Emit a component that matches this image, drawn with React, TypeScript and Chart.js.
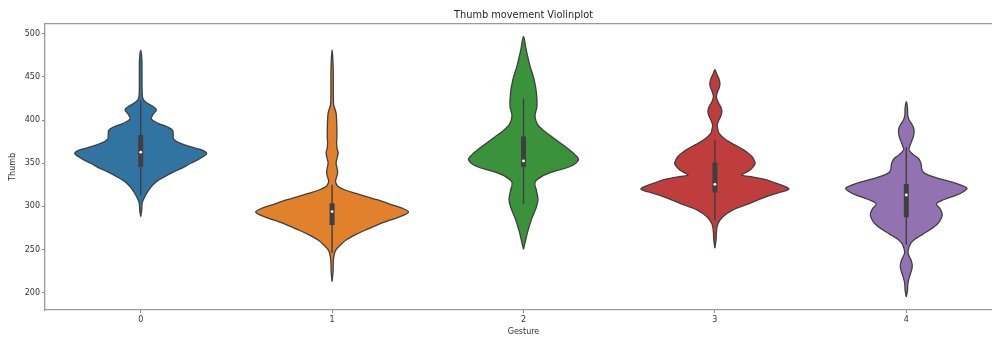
import React, { useEffect, useRef } from "react";
import { Chart, registerables } from "chart.js";

Chart.register(...registerables);

const categories = ["0", "1", "2", "3", "4"];
const yTicks = [200, 250, 300, 350, 400, 450, 500];
const colors = ["#3274a1", "#e1812c", "#3a923a", "#c03d3e", "#9372b2"];

// density profiles: values (Thumb) and half widths (pixels at the reference scale, 191.5 px per category)
const v0Vals = [288, 296, 304, 311, 317, 323, 329, 334.5, 340, 344, 350, 354, 358, 361.6, 365, 368, 373, 378, 383, 388, 392, 396, 401, 406, 412, 416, 420, 424, 430, 450, 470, 481];
const v0Half = [0, 1, 1.5, 4, 7, 10.7, 16, 24, 33, 40.7, 50, 57, 63, 66, 62, 53, 40, 33, 32.5, 32, 27, 18, 10.7, 12, 15.7, 12, 6, 2.5, 1.5, 1.3, 1.2, 0];

const v1Vals = [212.8, 225, 238, 246, 250, 255, 261, 267, 273, 279, 284, 289, 293.5, 298, 303, 307.5, 311, 315, 319, 323, 327, 330, 334, 339, 344, 350, 356, 362, 367, 373, 380, 390, 400, 408, 414, 418, 430, 460, 481.4];
const v1Half = [0, 1, 1.3, 2.5, 4, 8, 14, 23, 34, 46, 58, 70, 76.5, 70, 57, 46, 35, 24, 13, 6, 3.8, 3.5, 4.5, 5.5, 5, 4, 5, 6, 5, 4.5, 4.8, 4.8, 4.5, 4, 2.5, 1.5, 1.2, 1.1, 0];

const v2Vals = [250.3, 260, 270, 285, 298, 308, 318, 328, 334.5, 340.3, 346.2, 353.9, 359.7, 369.3, 380.9, 388, 395, 405, 416, 431, 446.7, 462, 481.4, 496.9];
const v2Half = [0, 2, 4, 8, 12.5, 14.5, 13, 11.5, 18, 30, 46.7, 55, 51.7, 41.7, 28, 20, 14, 11.5, 13.5, 13, 10.7, 6.7, 2.7, 0];

const v3Vals = [251.5, 262, 270, 280, 288, 296, 303.6, 311, 316, 320, 324, 327, 331, 334, 336.5, 340, 343, 347, 350, 354, 358, 362, 365.5, 370, 373, 379, 385, 390, 394.5, 400, 405, 410, 415, 420, 427, 434, 438, 443, 448, 453, 458.3];
const v3Half = [0, 1.2, 1.5, 3, 8, 18, 35, 51, 64, 74, 68, 61, 51, 38, 27, 32, 36, 39, 40.3, 39, 37, 33, 28.7, 22, 17, 9, 4, 2.8, 2.3, 4, 6, 7, 6, 3.5, 1.5, 3, 4.5, 5, 4, 2, 0];

const v4Vals = [195.3, 203, 210, 218, 225, 231, 237, 242, 246, 250, 254, 258, 262, 266, 270, 276, 282, 290, 297, 303, 308, 313, 317, 321, 325, 329, 334, 338, 342, 348, 352, 356, 360, 365.5, 370, 376, 382, 387, 392, 397, 401, 406, 414, 421.5];
const v4Half = [0, 1.2, 1.5, 3, 5, 6, 5, 3, 1.7, 2, 3, 5, 8.5, 14, 19.5, 27.5, 33, 36, 34, 30, 38, 50, 57, 60.7, 54, 43, 28, 19, 15.7, 15, 14, 11.7, 7, 2.7, 3.5, 5.5, 7.3, 7.8, 7, 4.5, 2.5, 1.4, 1.2, 0];

const violinVals = [v0Vals, v1Vals, v2Vals, v3Vals, v4Vals];
const violinHalf = [v0Half, v1Half, v2Half, v3Half, v4Half];

const q1 = [346, 278.5, 346, 316.2, 287.4];
const q3 = [382.8, 303.6, 380.9, 351, 326];
const medians = [362.8, 294, 352.7, 325.6, 313.2];
const whiskerLow = [313, 246, 302.8, 284, 255.8];
const whiskerHigh = [423, 325, 425.4, 377, 369];

const PX_PER_CAT = 191.5;
const FONT = "'DejaVu Sans', sans-serif";

export default function App() {
  const ref = useRef<HTMLCanvasElement | null>(null);

  useEffect(() => {
    const canvas = ref.current;
    if (!canvas) return;

    const datasets: any[] = [];

    violinVals.forEach((vals, i) => {
      const half = violinHalf[i];
      const right = vals.map((y, k) => ({ x: i + half[k] / PX_PER_CAT, y }));
      const left = vals
        .slice(0, -1)
        .map((y, k) => ({ x: i - half[k] / PX_PER_CAT, y }))
        .reverse();
      datasets.push({
        type: "line",
        label: "violin " + categories[i],
        data: [...right, ...left],
        borderColor: "#3f3f3f",
        borderWidth: 1.3,
        backgroundColor: colors[i],
        fill: "shape",
        tension: 0.35,
        pointRadius: 0,
        borderJoinStyle: "round",
        order: 10,
      });
    });

    categories.forEach((_, i) => {
      datasets.push({
        type: "line",
        label: "whisker " + i,
        data: [
          { x: i, y: whiskerLow[i] },
          { x: i, y: whiskerHigh[i] },
        ],
        borderColor: "#3f3f3f",
        borderWidth: 1.4,
        pointRadius: 0,
        fill: false,
        order: 5,
      });
      datasets.push({
        type: "line",
        label: "box " + i,
        data: [
          { x: i, y: q1[i] },
          { x: i, y: q3[i] },
        ],
        borderColor: "#3f3f3f",
        borderWidth: 5,
        borderCapStyle: "butt",
        pointRadius: 0,
        fill: false,
        order: 4,
      });
      datasets.push({
        type: "scatter",
        label: "median " + i,
        data: [{ x: i, y: medians[i] }],
        pointRadius: 1.4,
        pointBackgroundColor: "#ffffff",
        pointBorderWidth: 0,
        borderWidth: 0,
        order: 1,
      });
    });

    const chart = new Chart(canvas, {
      type: "line",
      data: { datasets },
      options: {
        animation: false,
        responsive: false,
        maintainAspectRatio: false,
        events: [],
        layout: { padding: { left: 0, right: 8, top: 0, bottom: 0 } },
        plugins: {
          legend: { display: false },
          tooltip: { enabled: false },
          title: {
            display: true,
            text: "Thumb movement Violinplot",
            fullSize: false,
            color: "#262626",
            font: { family: FONT, size: 9.8, weight: "normal" },
            padding: { top: 9.5, bottom: 2.5 },
          },
        },
        scales: {
          x: {
            type: "linear",
            min: -0.5,
            max: 4.5,
            afterBuildTicks: (s: any) => {
              s.ticks = categories.map((_, i) => ({ value: i }));
            },
            afterFit: (s: any) => {
              s.height = 28;
            },
            ticks: {
              callback: (v: any) => categories[Math.round(Number(v))] ?? "",
              color: "#333",
              font: { family: FONT, size: 8 },
              padding: 2,
              maxRotation: 0,
              autoSkip: false,
            },
            grid: {
              display: true,
              drawOnChartArea: false,
              drawTicks: true,
              tickLength: 3,
              tickColor: "#888",
              tickWidth: 1,
            },
            border: { display: true, color: "#9a9a9a", width: 1.3 },
            title: {
              display: true,
              text: "Gesture",
              color: "#333",
              font: { family: FONT, size: 8 },
              padding: { top: 0, bottom: 1 },
            },
          },
          x2: {
            type: "linear",
            position: "top",
            min: -0.5,
            max: 4.5,
            afterFit: (s: any) => {
              s.height = 0;
            },
            ticks: { display: false },
            grid: { display: false, drawTicks: false },
            border: { display: true, color: "#9a9a9a", width: 1.3 },
          },
          y: {
            type: "linear",
            min: 180,
            max: 511.6,
            afterBuildTicks: (s: any) => {
              s.ticks = yTicks.map((v) => ({ value: v }));
            },
            afterFit: (s: any) => {
              s.width = 45;
            },
            ticks: {
              color: "#333",
              font: { family: FONT, size: 8 },
              padding: 2,
            },
            grid: {
              display: true,
              drawOnChartArea: false,
              drawTicks: true,
              tickLength: 3,
              tickColor: "#888",
              tickWidth: 1,
            },
            border: { display: true, color: "#9a9a9a", width: 1.3 },
            title: {
              display: true,
              text: "Thumb",
              color: "#333",
              font: { family: FONT, size: 8 },
              padding: { top: 8.5, bottom: 0 },
            },
          },
        },
      } as any,
    });

    return () => chart.destroy();
  }, []);

  return (
    <div
      style={{
        position: "fixed",
        left: 0,
        top: 0,
        width: 992,
        height: 338,
        overflow: "hidden",
        background: "#ffffff",
      }}
    >
      <canvas ref={ref} width={1010} height={338} style={{ display: "block", width: 1010, height: 338 }} />
    </div>
  );
}
